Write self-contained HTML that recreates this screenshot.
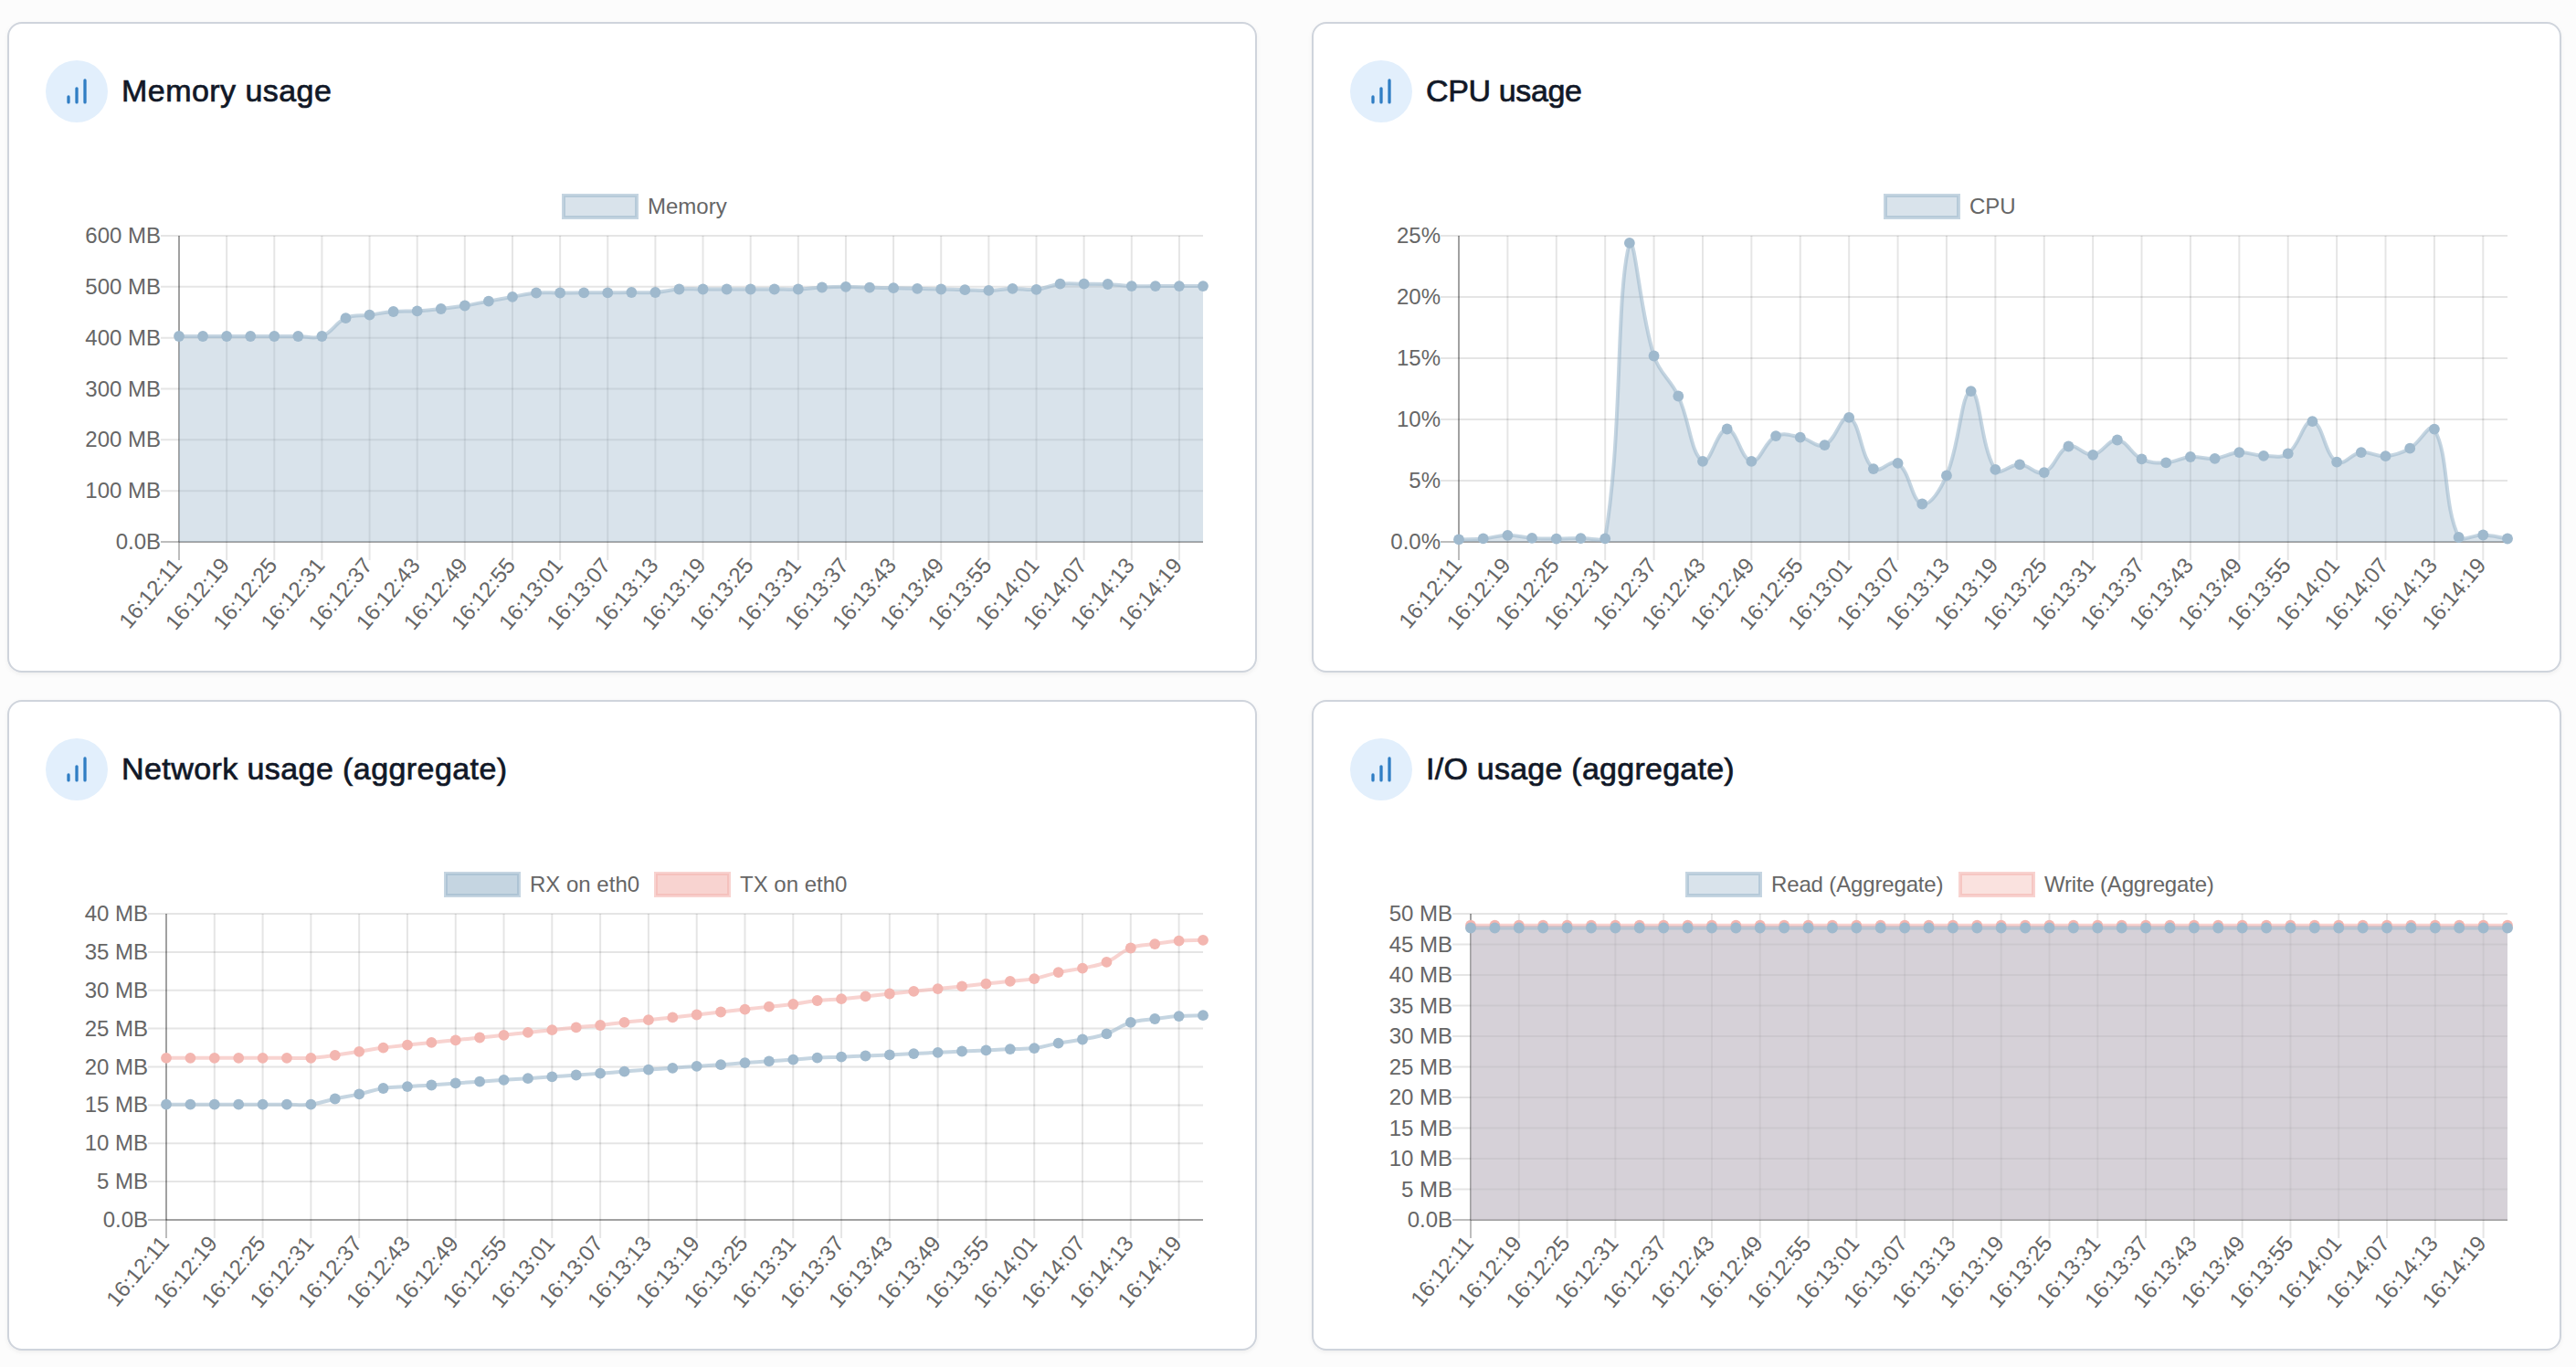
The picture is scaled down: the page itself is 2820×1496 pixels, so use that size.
<!DOCTYPE html>
<html><head><meta charset="utf-8"><title>Container stats</title>
<style>
html,body{margin:0;padding:0;background:#fcfcfc;overflow:hidden}
svg.page{display:block;width:100vw;height:100vh}
.g{stroke:rgba(0,0,0,0.1);stroke-width:2}
.z{stroke:rgba(0,0,0,0.26);stroke-width:2}
.a{stroke:rgba(0,0,0,0.37);stroke-width:2}
text{font-family:"Liberation Sans",Arial,Helvetica,sans-serif;font-size:24px;fill:#666}
.t{font-size:34px;fill:#111827;stroke:#111827;stroke-width:0.7px}
.yl{text-anchor:end;dominant-baseline:central}
.xl{text-anchor:end;dominant-baseline:central}
.lg{dominant-baseline:central}
</style></head><body>
<svg class="page" viewBox="0 0 2820 1496" preserveAspectRatio="xMidYMid meet">
<defs><filter id="sh" x="-2%" y="-2%" width="104%" height="106%"><feDropShadow dx="0" dy="2" stdDeviation="2" flood-color="#000" flood-opacity="0.05"/></filter></defs>
<rect x="0" y="0" width="2820" height="1496" fill="#fcfcfc"/>

<rect x="9" y="25" width="1366" height="710" rx="15" ry="15" fill="#fff" stroke="#cfd4dc" stroke-width="2" filter="url(#sh)"/>
<rect x="1437" y="25" width="1366" height="710" rx="15" ry="15" fill="#fff" stroke="#cfd4dc" stroke-width="2" filter="url(#sh)"/>
<rect x="9" y="767" width="1366" height="710" rx="15" ry="15" fill="#fff" stroke="#cfd4dc" stroke-width="2" filter="url(#sh)"/>
<rect x="1437" y="767" width="1366" height="710" rx="15" ry="15" fill="#fff" stroke="#cfd4dc" stroke-width="2" filter="url(#sh)"/>
<g transform="translate(50 66)"><circle cx="34" cy="34" r="34" fill="#e2effc"/><g stroke="#307ec4" stroke-width="3.3" stroke-linecap="round"><line x1="25" y1="39.95" x2="25" y2="45.95"/><line x1="34" y1="30.85" x2="34" y2="45.95"/><line x1="43" y1="21.95" x2="43" y2="45.95"/></g></g>
<text class="t" x="133" y="110.78" letter-spacing="0.45">Memory usage</text>
<g transform="translate(1478 66)"><circle cx="34" cy="34" r="34" fill="#e2effc"/><g stroke="#307ec4" stroke-width="3.3" stroke-linecap="round"><line x1="25" y1="39.95" x2="25" y2="45.95"/><line x1="34" y1="30.85" x2="34" y2="45.95"/><line x1="43" y1="21.95" x2="43" y2="45.95"/></g></g>
<text class="t" x="1561" y="110.78" letter-spacing="-0.37">CPU usage</text>
<g transform="translate(50 808)"><circle cx="34" cy="34" r="34" fill="#e2effc"/><g stroke="#307ec4" stroke-width="3.3" stroke-linecap="round"><line x1="25" y1="39.95" x2="25" y2="45.95"/><line x1="34" y1="30.85" x2="34" y2="45.95"/><line x1="43" y1="21.95" x2="43" y2="45.95"/></g></g>
<text class="t" x="133" y="852.78" letter-spacing="0.42">Network usage (aggregate)</text>
<g transform="translate(1478 808)"><circle cx="34" cy="34" r="34" fill="#e2effc"/><g stroke="#307ec4" stroke-width="3.3" stroke-linecap="round"><line x1="25" y1="39.95" x2="25" y2="45.95"/><line x1="34" y1="30.85" x2="34" y2="45.95"/><line x1="43" y1="21.95" x2="43" y2="45.95"/></g></g>
<text class="t" x="1561" y="852.78" letter-spacing="0.25">I/O usage (aggregate)</text>
<line x1="176" y1="537.17" x2="1317.0" y2="537.17" class="g"/>
<line x1="176" y1="481.33" x2="1317.0" y2="481.33" class="g"/>
<line x1="176" y1="425.50" x2="1317.0" y2="425.50" class="g"/>
<line x1="176" y1="369.67" x2="1317.0" y2="369.67" class="g"/>
<line x1="176" y1="313.83" x2="1317.0" y2="313.83" class="g"/>
<line x1="176" y1="258.00" x2="1317.0" y2="258.00" class="g"/>
<line x1="248.14" y1="258" x2="248.14" y2="613" class="g"/>
<line x1="300.28" y1="258" x2="300.28" y2="613" class="g"/>
<line x1="352.42" y1="258" x2="352.42" y2="613" class="g"/>
<line x1="404.56" y1="258" x2="404.56" y2="613" class="g"/>
<line x1="456.70" y1="258" x2="456.70" y2="613" class="g"/>
<line x1="508.84" y1="258" x2="508.84" y2="613" class="g"/>
<line x1="560.98" y1="258" x2="560.98" y2="613" class="g"/>
<line x1="613.12" y1="258" x2="613.12" y2="613" class="g"/>
<line x1="665.26" y1="258" x2="665.26" y2="613" class="g"/>
<line x1="717.40" y1="258" x2="717.40" y2="613" class="g"/>
<line x1="769.53" y1="258" x2="769.53" y2="613" class="g"/>
<line x1="821.67" y1="258" x2="821.67" y2="613" class="g"/>
<line x1="873.81" y1="258" x2="873.81" y2="613" class="g"/>
<line x1="925.95" y1="258" x2="925.95" y2="613" class="g"/>
<line x1="978.09" y1="258" x2="978.09" y2="613" class="g"/>
<line x1="1030.23" y1="258" x2="1030.23" y2="613" class="g"/>
<line x1="1082.37" y1="258" x2="1082.37" y2="613" class="g"/>
<line x1="1134.51" y1="258" x2="1134.51" y2="613" class="g"/>
<line x1="1186.65" y1="258" x2="1186.65" y2="613" class="g"/>
<line x1="1238.79" y1="258" x2="1238.79" y2="613" class="g"/>
<line x1="1290.93" y1="258" x2="1290.93" y2="613" class="g"/>
<line x1="196" y1="593" x2="196" y2="613" class="z"/>
<line x1="176" y1="593" x2="196" y2="593" class="z"/>
<line x1="196" y1="258" x2="196" y2="593" class="a"/>
<line x1="196" y1="593" x2="1317.0" y2="593" class="a"/>
<text x="176" y="592.5" class="yl">0.0B</text>
<text x="176" y="536.7" class="yl">100 MB</text>
<text x="176" y="480.8" class="yl">200 MB</text>
<text x="176" y="425.0" class="yl">300 MB</text>
<text x="176" y="369.2" class="yl">400 MB</text>
<text x="176" y="313.3" class="yl">500 MB</text>
<text x="176" y="257.5" class="yl">600 MB</text>
<text transform="translate(193.8 613.9) rotate(-50)" class="xl">16:12:11</text>
<text transform="translate(245.9 613.9) rotate(-50)" class="xl">16:12:19</text>
<text transform="translate(298.1 613.9) rotate(-50)" class="xl">16:12:25</text>
<text transform="translate(350.2 613.9) rotate(-50)" class="xl">16:12:31</text>
<text transform="translate(402.4 613.9) rotate(-50)" class="xl">16:12:37</text>
<text transform="translate(454.5 613.9) rotate(-50)" class="xl">16:12:43</text>
<text transform="translate(506.6 613.9) rotate(-50)" class="xl">16:12:49</text>
<text transform="translate(558.8 613.9) rotate(-50)" class="xl">16:12:55</text>
<text transform="translate(610.9 613.9) rotate(-50)" class="xl">16:13:01</text>
<text transform="translate(663.1 613.9) rotate(-50)" class="xl">16:13:07</text>
<text transform="translate(715.2 613.9) rotate(-50)" class="xl">16:13:13</text>
<text transform="translate(767.3 613.9) rotate(-50)" class="xl">16:13:19</text>
<text transform="translate(819.5 613.9) rotate(-50)" class="xl">16:13:25</text>
<text transform="translate(871.6 613.9) rotate(-50)" class="xl">16:13:31</text>
<text transform="translate(923.8 613.9) rotate(-50)" class="xl">16:13:37</text>
<text transform="translate(975.9 613.9) rotate(-50)" class="xl">16:13:43</text>
<text transform="translate(1028.0 613.9) rotate(-50)" class="xl">16:13:49</text>
<text transform="translate(1080.2 613.9) rotate(-50)" class="xl">16:13:55</text>
<text transform="translate(1132.3 613.9) rotate(-50)" class="xl">16:14:01</text>
<text transform="translate(1184.5 613.9) rotate(-50)" class="xl">16:14:07</text>
<text transform="translate(1236.6 613.9) rotate(-50)" class="xl">16:14:13</text>
<text transform="translate(1288.7 613.9) rotate(-50)" class="xl">16:14:19</text>
<clipPath id="cm"><rect x="196.0" y="258" width="1121.0" height="335"/></clipPath>
<clipPath id="lm"><rect x="194.0" y="256" width="1125.0" height="339"/></clipPath>
<path d="M196.00 368.00 C206.43 368.00 211.64 368.00 222.07 368.00 C232.50 368.00 237.71 368.00 248.14 368.00 C258.57 368.00 263.78 368.00 274.21 368.00 C284.64 368.00 289.85 368.00 300.28 368.00 C310.71 368.00 315.92 368.00 326.35 368.00 C336.78 368.00 343.17 371.51 352.42 368.00 C364.03 363.59 366.92 353.37 378.49 348.20 C387.78 344.05 394.14 346.14 404.56 344.70 C414.99 343.26 420.15 341.88 430.63 341.00 C441.01 340.12 446.29 340.90 456.70 340.30 C467.14 339.70 472.37 339.16 482.77 338.00 C493.22 336.84 498.45 336.17 508.84 334.50 C519.31 332.81 524.47 331.52 534.91 329.60 C545.33 327.68 550.54 326.72 560.98 324.90 C571.39 323.08 576.55 321.39 587.05 320.50 C597.40 319.63 602.69 320.54 613.12 320.50 C623.54 320.46 628.76 320.34 639.19 320.30 C649.61 320.26 654.83 320.36 665.26 320.30 C675.68 320.24 680.90 320.06 691.33 320.00 C701.75 319.94 707.01 320.70 717.40 320.00 C727.87 319.30 732.99 317.20 743.47 316.50 C753.85 315.80 759.11 316.50 769.53 316.50 C779.96 316.50 785.18 316.50 795.60 316.50 C806.03 316.50 811.25 316.50 821.67 316.50 C832.10 316.50 837.32 316.50 847.74 316.50 C858.17 316.50 863.40 316.90 873.81 316.50 C884.26 316.10 889.44 315.04 899.88 314.50 C910.30 313.96 915.53 313.78 925.95 313.80 C936.38 313.82 941.59 314.32 952.02 314.60 C962.45 314.88 967.67 314.96 978.09 315.20 C988.52 315.44 993.74 315.54 1004.16 315.80 C1014.59 316.06 1019.80 316.22 1030.23 316.50 C1040.66 316.78 1045.87 316.92 1056.30 317.20 C1066.73 317.48 1071.96 318.16 1082.37 317.90 C1092.81 317.64 1098.00 316.12 1108.44 315.90 C1118.86 315.68 1124.22 317.83 1134.51 316.80 C1145.08 315.75 1150.01 311.94 1160.58 310.70 C1170.87 309.50 1176.22 310.64 1186.65 310.70 C1197.08 310.76 1202.31 310.52 1212.72 311.00 C1223.17 311.48 1228.35 312.68 1238.79 313.10 C1249.20 313.52 1254.43 313.10 1264.86 313.10 C1275.29 313.10 1280.50 313.10 1290.93 313.10 C1301.36 313.10 1306.57 313.10 1317.00 313.10 L1317.00 593 L196.00 593 Z" fill="rgba(159,185,205,0.4)" clip-path="url(#cm)"/>
<path d="M196.00 368.00 C206.43 368.00 211.64 368.00 222.07 368.00 C232.50 368.00 237.71 368.00 248.14 368.00 C258.57 368.00 263.78 368.00 274.21 368.00 C284.64 368.00 289.85 368.00 300.28 368.00 C310.71 368.00 315.92 368.00 326.35 368.00 C336.78 368.00 343.17 371.51 352.42 368.00 C364.03 363.59 366.92 353.37 378.49 348.20 C387.78 344.05 394.14 346.14 404.56 344.70 C414.99 343.26 420.15 341.88 430.63 341.00 C441.01 340.12 446.29 340.90 456.70 340.30 C467.14 339.70 472.37 339.16 482.77 338.00 C493.22 336.84 498.45 336.17 508.84 334.50 C519.31 332.81 524.47 331.52 534.91 329.60 C545.33 327.68 550.54 326.72 560.98 324.90 C571.39 323.08 576.55 321.39 587.05 320.50 C597.40 319.63 602.69 320.54 613.12 320.50 C623.54 320.46 628.76 320.34 639.19 320.30 C649.61 320.26 654.83 320.36 665.26 320.30 C675.68 320.24 680.90 320.06 691.33 320.00 C701.75 319.94 707.01 320.70 717.40 320.00 C727.87 319.30 732.99 317.20 743.47 316.50 C753.85 315.80 759.11 316.50 769.53 316.50 C779.96 316.50 785.18 316.50 795.60 316.50 C806.03 316.50 811.25 316.50 821.67 316.50 C832.10 316.50 837.32 316.50 847.74 316.50 C858.17 316.50 863.40 316.90 873.81 316.50 C884.26 316.10 889.44 315.04 899.88 314.50 C910.30 313.96 915.53 313.78 925.95 313.80 C936.38 313.82 941.59 314.32 952.02 314.60 C962.45 314.88 967.67 314.96 978.09 315.20 C988.52 315.44 993.74 315.54 1004.16 315.80 C1014.59 316.06 1019.80 316.22 1030.23 316.50 C1040.66 316.78 1045.87 316.92 1056.30 317.20 C1066.73 317.48 1071.96 318.16 1082.37 317.90 C1092.81 317.64 1098.00 316.12 1108.44 315.90 C1118.86 315.68 1124.22 317.83 1134.51 316.80 C1145.08 315.75 1150.01 311.94 1160.58 310.70 C1170.87 309.50 1176.22 310.64 1186.65 310.70 C1197.08 310.76 1202.31 310.52 1212.72 311.00 C1223.17 311.48 1228.35 312.68 1238.79 313.10 C1249.20 313.52 1254.43 313.10 1264.86 313.10 C1275.29 313.10 1280.50 313.10 1290.93 313.10 C1301.36 313.10 1306.57 313.10 1317.00 313.10" fill="none" stroke="rgba(159,185,205,0.6)" stroke-width="4" stroke-linejoin="round" clip-path="url(#lm)"/>
<g fill="rgba(159,185,205,1)"><circle cx="196.00" cy="368.00" r="5.9"/><circle cx="222.07" cy="368.00" r="5.9"/><circle cx="248.14" cy="368.00" r="5.9"/><circle cx="274.21" cy="368.00" r="5.9"/><circle cx="300.28" cy="368.00" r="5.9"/><circle cx="326.35" cy="368.00" r="5.9"/><circle cx="352.42" cy="368.00" r="5.9"/><circle cx="378.49" cy="348.20" r="5.9"/><circle cx="404.56" cy="344.70" r="5.9"/><circle cx="430.63" cy="341.00" r="5.9"/><circle cx="456.70" cy="340.30" r="5.9"/><circle cx="482.77" cy="338.00" r="5.9"/><circle cx="508.84" cy="334.50" r="5.9"/><circle cx="534.91" cy="329.60" r="5.9"/><circle cx="560.98" cy="324.90" r="5.9"/><circle cx="587.05" cy="320.50" r="5.9"/><circle cx="613.12" cy="320.50" r="5.9"/><circle cx="639.19" cy="320.30" r="5.9"/><circle cx="665.26" cy="320.30" r="5.9"/><circle cx="691.33" cy="320.00" r="5.9"/><circle cx="717.40" cy="320.00" r="5.9"/><circle cx="743.47" cy="316.50" r="5.9"/><circle cx="769.53" cy="316.50" r="5.9"/><circle cx="795.60" cy="316.50" r="5.9"/><circle cx="821.67" cy="316.50" r="5.9"/><circle cx="847.74" cy="316.50" r="5.9"/><circle cx="873.81" cy="316.50" r="5.9"/><circle cx="899.88" cy="314.50" r="5.9"/><circle cx="925.95" cy="313.80" r="5.9"/><circle cx="952.02" cy="314.60" r="5.9"/><circle cx="978.09" cy="315.20" r="5.9"/><circle cx="1004.16" cy="315.80" r="5.9"/><circle cx="1030.23" cy="316.50" r="5.9"/><circle cx="1056.30" cy="317.20" r="5.9"/><circle cx="1082.37" cy="317.90" r="5.9"/><circle cx="1108.44" cy="315.90" r="5.9"/><circle cx="1134.51" cy="316.80" r="5.9"/><circle cx="1160.58" cy="310.70" r="5.9"/><circle cx="1186.65" cy="310.70" r="5.9"/><circle cx="1212.72" cy="311.00" r="5.9"/><circle cx="1238.79" cy="313.10" r="5.9"/><circle cx="1264.86" cy="313.10" r="5.9"/><circle cx="1290.93" cy="313.10" r="5.9"/><circle cx="1317.00" cy="313.10" r="5.9"/></g>
<rect x="617" y="214" width="80" height="24" fill="rgba(159,185,205,0.4)" stroke="rgba(159,185,205,0.6)" stroke-width="4"/>
<text x="709.0" y="225.2" class="lg">Memory</text>
<line x1="1577" y1="526.00" x2="2745.0" y2="526.00" class="g"/>
<line x1="1577" y1="459.00" x2="2745.0" y2="459.00" class="g"/>
<line x1="1577" y1="392.00" x2="2745.0" y2="392.00" class="g"/>
<line x1="1577" y1="325.00" x2="2745.0" y2="325.00" class="g"/>
<line x1="1577" y1="258.00" x2="2745.0" y2="258.00" class="g"/>
<line x1="1650.40" y1="258" x2="1650.40" y2="613" class="g"/>
<line x1="1703.79" y1="258" x2="1703.79" y2="613" class="g"/>
<line x1="1757.19" y1="258" x2="1757.19" y2="613" class="g"/>
<line x1="1810.58" y1="258" x2="1810.58" y2="613" class="g"/>
<line x1="1863.98" y1="258" x2="1863.98" y2="613" class="g"/>
<line x1="1917.37" y1="258" x2="1917.37" y2="613" class="g"/>
<line x1="1970.77" y1="258" x2="1970.77" y2="613" class="g"/>
<line x1="2024.16" y1="258" x2="2024.16" y2="613" class="g"/>
<line x1="2077.56" y1="258" x2="2077.56" y2="613" class="g"/>
<line x1="2130.95" y1="258" x2="2130.95" y2="613" class="g"/>
<line x1="2184.35" y1="258" x2="2184.35" y2="613" class="g"/>
<line x1="2237.74" y1="258" x2="2237.74" y2="613" class="g"/>
<line x1="2291.14" y1="258" x2="2291.14" y2="613" class="g"/>
<line x1="2344.53" y1="258" x2="2344.53" y2="613" class="g"/>
<line x1="2397.93" y1="258" x2="2397.93" y2="613" class="g"/>
<line x1="2451.33" y1="258" x2="2451.33" y2="613" class="g"/>
<line x1="2504.72" y1="258" x2="2504.72" y2="613" class="g"/>
<line x1="2558.12" y1="258" x2="2558.12" y2="613" class="g"/>
<line x1="2611.51" y1="258" x2="2611.51" y2="613" class="g"/>
<line x1="2664.91" y1="258" x2="2664.91" y2="613" class="g"/>
<line x1="2718.30" y1="258" x2="2718.30" y2="613" class="g"/>
<line x1="1597" y1="593" x2="1597" y2="613" class="z"/>
<line x1="1577" y1="593" x2="1597" y2="593" class="z"/>
<line x1="1597" y1="258" x2="1597" y2="593" class="a"/>
<line x1="1597" y1="593" x2="2745.0" y2="593" class="a"/>
<text x="1577" y="592.5" class="yl">0.0%</text>
<text x="1577" y="525.5" class="yl">5%</text>
<text x="1577" y="458.5" class="yl">10%</text>
<text x="1577" y="391.5" class="yl">15%</text>
<text x="1577" y="324.5" class="yl">20%</text>
<text x="1577" y="257.5" class="yl">25%</text>
<text transform="translate(1594.8 613.9) rotate(-50)" class="xl">16:12:11</text>
<text transform="translate(1648.2 613.9) rotate(-50)" class="xl">16:12:19</text>
<text transform="translate(1701.6 613.9) rotate(-50)" class="xl">16:12:25</text>
<text transform="translate(1755.0 613.9) rotate(-50)" class="xl">16:12:31</text>
<text transform="translate(1808.4 613.9) rotate(-50)" class="xl">16:12:37</text>
<text transform="translate(1861.8 613.9) rotate(-50)" class="xl">16:12:43</text>
<text transform="translate(1915.2 613.9) rotate(-50)" class="xl">16:12:49</text>
<text transform="translate(1968.6 613.9) rotate(-50)" class="xl">16:12:55</text>
<text transform="translate(2022.0 613.9) rotate(-50)" class="xl">16:13:01</text>
<text transform="translate(2075.4 613.9) rotate(-50)" class="xl">16:13:07</text>
<text transform="translate(2128.8 613.9) rotate(-50)" class="xl">16:13:13</text>
<text transform="translate(2182.1 613.9) rotate(-50)" class="xl">16:13:19</text>
<text transform="translate(2235.5 613.9) rotate(-50)" class="xl">16:13:25</text>
<text transform="translate(2288.9 613.9) rotate(-50)" class="xl">16:13:31</text>
<text transform="translate(2342.3 613.9) rotate(-50)" class="xl">16:13:37</text>
<text transform="translate(2395.7 613.9) rotate(-50)" class="xl">16:13:43</text>
<text transform="translate(2449.1 613.9) rotate(-50)" class="xl">16:13:49</text>
<text transform="translate(2502.5 613.9) rotate(-50)" class="xl">16:13:55</text>
<text transform="translate(2555.9 613.9) rotate(-50)" class="xl">16:14:01</text>
<text transform="translate(2609.3 613.9) rotate(-50)" class="xl">16:14:07</text>
<text transform="translate(2662.7 613.9) rotate(-50)" class="xl">16:14:13</text>
<text transform="translate(2716.1 613.9) rotate(-50)" class="xl">16:14:19</text>
<clipPath id="cc"><rect x="1597.0" y="258" width="1148.0" height="335"/></clipPath>
<clipPath id="lc"><rect x="1595.0" y="256" width="1152.0" height="339"/></clipPath>
<path d="M1597.00 590.40 C1607.68 590.00 1613.06 590.32 1623.70 589.40 C1634.42 588.48 1639.70 585.90 1650.40 585.80 C1661.06 585.70 1666.38 588.14 1677.09 588.90 C1687.74 589.66 1693.11 589.56 1703.79 589.60 C1714.47 589.64 1719.81 589.14 1730.49 589.10 C1741.17 589.06 1755.56 593.00 1757.19 589.40 C1776.92 469.95 1768.51 323.44 1783.88 265.90 C1789.87 258.00 1795.40 341.85 1810.58 389.50 C1816.76 408.89 1828.66 414.90 1837.28 433.50 C1850.02 461.02 1850.47 495.69 1863.98 504.80 C1871.83 510.09 1880.00 469.48 1890.67 469.50 C1901.36 469.52 1905.95 503.27 1917.37 504.90 C1927.30 506.31 1931.46 483.31 1944.07 477.10 C1952.82 472.79 1960.34 476.65 1970.77 478.60 C1981.70 480.65 1988.72 490.67 1997.47 487.10 C2010.07 481.95 2015.76 452.71 2024.16 456.80 C2037.12 463.11 2036.03 499.21 2050.86 513.10 C2057.39 519.21 2070.19 501.50 2077.56 506.80 C2091.55 516.86 2092.31 548.46 2104.26 551.50 C2113.66 553.90 2124.57 535.16 2130.95 520.40 C2145.93 485.80 2146.61 429.44 2157.65 428.10 C2167.97 426.84 2167.96 489.29 2184.35 513.90 C2189.32 521.37 2200.53 507.67 2211.05 508.30 C2221.89 508.95 2228.81 520.41 2237.74 517.10 C2250.17 512.49 2252.04 492.98 2264.44 488.50 C2273.40 485.26 2281.00 499.13 2291.14 497.80 C2302.36 496.33 2307.59 480.62 2317.84 481.50 C2328.95 482.46 2332.64 496.85 2344.53 502.40 C2354.00 506.81 2360.64 506.88 2371.23 506.40 C2382.00 505.92 2387.11 500.93 2397.93 500.00 C2408.47 499.09 2414.10 502.77 2424.63 501.80 C2435.46 500.81 2440.53 495.71 2451.33 495.10 C2461.89 494.51 2467.32 498.56 2478.02 498.80 C2488.67 499.04 2496.64 501.99 2504.72 496.30 C2518.00 486.95 2521.60 459.49 2531.42 461.20 C2542.96 463.21 2544.37 496.87 2558.12 505.60 C2565.73 510.43 2573.81 496.42 2584.81 495.10 C2595.17 493.86 2601.03 500.06 2611.51 499.20 C2622.39 498.30 2628.56 496.05 2638.21 490.70 C2649.92 484.21 2660.23 461.08 2664.91 469.60 C2681.59 500.00 2674.11 550.03 2691.60 588.00 C2695.47 593.00 2707.66 585.20 2718.30 585.50 C2729.02 585.80 2734.32 587.90 2745.00 589.50 L2745.00 593 L1597.00 593 Z" fill="rgba(159,185,205,0.4)" clip-path="url(#cc)"/>
<path d="M1597.00 590.40 C1607.68 590.00 1613.06 590.32 1623.70 589.40 C1634.42 588.48 1639.70 585.90 1650.40 585.80 C1661.06 585.70 1666.38 588.14 1677.09 588.90 C1687.74 589.66 1693.11 589.56 1703.79 589.60 C1714.47 589.64 1719.81 589.14 1730.49 589.10 C1741.17 589.06 1755.56 593.00 1757.19 589.40 C1776.92 469.95 1768.51 323.44 1783.88 265.90 C1789.87 258.00 1795.40 341.85 1810.58 389.50 C1816.76 408.89 1828.66 414.90 1837.28 433.50 C1850.02 461.02 1850.47 495.69 1863.98 504.80 C1871.83 510.09 1880.00 469.48 1890.67 469.50 C1901.36 469.52 1905.95 503.27 1917.37 504.90 C1927.30 506.31 1931.46 483.31 1944.07 477.10 C1952.82 472.79 1960.34 476.65 1970.77 478.60 C1981.70 480.65 1988.72 490.67 1997.47 487.10 C2010.07 481.95 2015.76 452.71 2024.16 456.80 C2037.12 463.11 2036.03 499.21 2050.86 513.10 C2057.39 519.21 2070.19 501.50 2077.56 506.80 C2091.55 516.86 2092.31 548.46 2104.26 551.50 C2113.66 553.90 2124.57 535.16 2130.95 520.40 C2145.93 485.80 2146.61 429.44 2157.65 428.10 C2167.97 426.84 2167.96 489.29 2184.35 513.90 C2189.32 521.37 2200.53 507.67 2211.05 508.30 C2221.89 508.95 2228.81 520.41 2237.74 517.10 C2250.17 512.49 2252.04 492.98 2264.44 488.50 C2273.40 485.26 2281.00 499.13 2291.14 497.80 C2302.36 496.33 2307.59 480.62 2317.84 481.50 C2328.95 482.46 2332.64 496.85 2344.53 502.40 C2354.00 506.81 2360.64 506.88 2371.23 506.40 C2382.00 505.92 2387.11 500.93 2397.93 500.00 C2408.47 499.09 2414.10 502.77 2424.63 501.80 C2435.46 500.81 2440.53 495.71 2451.33 495.10 C2461.89 494.51 2467.32 498.56 2478.02 498.80 C2488.67 499.04 2496.64 501.99 2504.72 496.30 C2518.00 486.95 2521.60 459.49 2531.42 461.20 C2542.96 463.21 2544.37 496.87 2558.12 505.60 C2565.73 510.43 2573.81 496.42 2584.81 495.10 C2595.17 493.86 2601.03 500.06 2611.51 499.20 C2622.39 498.30 2628.56 496.05 2638.21 490.70 C2649.92 484.21 2660.23 461.08 2664.91 469.60 C2681.59 500.00 2674.11 550.03 2691.60 588.00 C2695.47 593.00 2707.66 585.20 2718.30 585.50 C2729.02 585.80 2734.32 587.90 2745.00 589.50" fill="none" stroke="rgba(159,185,205,0.6)" stroke-width="4" stroke-linejoin="round" clip-path="url(#lc)"/>
<g fill="rgba(159,185,205,1)"><circle cx="1597.00" cy="590.40" r="5.9"/><circle cx="1623.70" cy="589.40" r="5.9"/><circle cx="1650.40" cy="585.80" r="5.9"/><circle cx="1677.09" cy="588.90" r="5.9"/><circle cx="1703.79" cy="589.60" r="5.9"/><circle cx="1730.49" cy="589.10" r="5.9"/><circle cx="1757.19" cy="589.40" r="5.9"/><circle cx="1783.88" cy="265.90" r="5.9"/><circle cx="1810.58" cy="389.50" r="5.9"/><circle cx="1837.28" cy="433.50" r="5.9"/><circle cx="1863.98" cy="504.80" r="5.9"/><circle cx="1890.67" cy="469.50" r="5.9"/><circle cx="1917.37" cy="504.90" r="5.9"/><circle cx="1944.07" cy="477.10" r="5.9"/><circle cx="1970.77" cy="478.60" r="5.9"/><circle cx="1997.47" cy="487.10" r="5.9"/><circle cx="2024.16" cy="456.80" r="5.9"/><circle cx="2050.86" cy="513.10" r="5.9"/><circle cx="2077.56" cy="506.80" r="5.9"/><circle cx="2104.26" cy="551.50" r="5.9"/><circle cx="2130.95" cy="520.40" r="5.9"/><circle cx="2157.65" cy="428.10" r="5.9"/><circle cx="2184.35" cy="513.90" r="5.9"/><circle cx="2211.05" cy="508.30" r="5.9"/><circle cx="2237.74" cy="517.10" r="5.9"/><circle cx="2264.44" cy="488.50" r="5.9"/><circle cx="2291.14" cy="497.80" r="5.9"/><circle cx="2317.84" cy="481.50" r="5.9"/><circle cx="2344.53" cy="502.40" r="5.9"/><circle cx="2371.23" cy="506.40" r="5.9"/><circle cx="2397.93" cy="500.00" r="5.9"/><circle cx="2424.63" cy="501.80" r="5.9"/><circle cx="2451.33" cy="495.10" r="5.9"/><circle cx="2478.02" cy="498.80" r="5.9"/><circle cx="2504.72" cy="496.30" r="5.9"/><circle cx="2531.42" cy="461.20" r="5.9"/><circle cx="2558.12" cy="505.60" r="5.9"/><circle cx="2584.81" cy="495.10" r="5.9"/><circle cx="2611.51" cy="499.20" r="5.9"/><circle cx="2638.21" cy="490.70" r="5.9"/><circle cx="2664.91" cy="469.60" r="5.9"/><circle cx="2691.60" cy="588.00" r="5.9"/><circle cx="2718.30" cy="585.50" r="5.9"/><circle cx="2745.00" cy="589.50" r="5.9"/></g>
<rect x="2064" y="214" width="80" height="24" fill="rgba(159,185,205,0.4)" stroke="rgba(159,185,205,0.6)" stroke-width="4"/>
<text x="2156.0" y="225.2" class="lg">CPU</text>
<line x1="162" y1="1293.12" x2="1317.0" y2="1293.12" class="g"/>
<line x1="162" y1="1251.25" x2="1317.0" y2="1251.25" class="g"/>
<line x1="162" y1="1209.38" x2="1317.0" y2="1209.38" class="g"/>
<line x1="162" y1="1167.50" x2="1317.0" y2="1167.50" class="g"/>
<line x1="162" y1="1125.62" x2="1317.0" y2="1125.62" class="g"/>
<line x1="162" y1="1083.75" x2="1317.0" y2="1083.75" class="g"/>
<line x1="162" y1="1041.88" x2="1317.0" y2="1041.88" class="g"/>
<line x1="162" y1="1000.00" x2="1317.0" y2="1000.00" class="g"/>
<line x1="234.79" y1="1000" x2="234.79" y2="1355" class="g"/>
<line x1="287.58" y1="1000" x2="287.58" y2="1355" class="g"/>
<line x1="340.37" y1="1000" x2="340.37" y2="1355" class="g"/>
<line x1="393.16" y1="1000" x2="393.16" y2="1355" class="g"/>
<line x1="445.95" y1="1000" x2="445.95" y2="1355" class="g"/>
<line x1="498.74" y1="1000" x2="498.74" y2="1355" class="g"/>
<line x1="551.53" y1="1000" x2="551.53" y2="1355" class="g"/>
<line x1="604.33" y1="1000" x2="604.33" y2="1355" class="g"/>
<line x1="657.12" y1="1000" x2="657.12" y2="1355" class="g"/>
<line x1="709.91" y1="1000" x2="709.91" y2="1355" class="g"/>
<line x1="762.70" y1="1000" x2="762.70" y2="1355" class="g"/>
<line x1="815.49" y1="1000" x2="815.49" y2="1355" class="g"/>
<line x1="868.28" y1="1000" x2="868.28" y2="1355" class="g"/>
<line x1="921.07" y1="1000" x2="921.07" y2="1355" class="g"/>
<line x1="973.86" y1="1000" x2="973.86" y2="1355" class="g"/>
<line x1="1026.65" y1="1000" x2="1026.65" y2="1355" class="g"/>
<line x1="1079.44" y1="1000" x2="1079.44" y2="1355" class="g"/>
<line x1="1132.23" y1="1000" x2="1132.23" y2="1355" class="g"/>
<line x1="1185.02" y1="1000" x2="1185.02" y2="1355" class="g"/>
<line x1="1237.81" y1="1000" x2="1237.81" y2="1355" class="g"/>
<line x1="1290.60" y1="1000" x2="1290.60" y2="1355" class="g"/>
<line x1="182" y1="1335" x2="182" y2="1355" class="z"/>
<line x1="162" y1="1335" x2="182" y2="1335" class="z"/>
<line x1="182" y1="1000" x2="182" y2="1335" class="a"/>
<line x1="182" y1="1335" x2="1317.0" y2="1335" class="a"/>
<text x="162" y="1334.5" class="yl">0.0B</text>
<text x="162" y="1292.6" class="yl">5 MB</text>
<text x="162" y="1250.8" class="yl">10 MB</text>
<text x="162" y="1208.9" class="yl">15 MB</text>
<text x="162" y="1167.0" class="yl">20 MB</text>
<text x="162" y="1125.1" class="yl">25 MB</text>
<text x="162" y="1083.2" class="yl">30 MB</text>
<text x="162" y="1041.4" class="yl">35 MB</text>
<text x="162" y="999.5" class="yl">40 MB</text>
<text transform="translate(179.8 1355.9) rotate(-50)" class="xl">16:12:11</text>
<text transform="translate(232.6 1355.9) rotate(-50)" class="xl">16:12:19</text>
<text transform="translate(285.4 1355.9) rotate(-50)" class="xl">16:12:25</text>
<text transform="translate(338.2 1355.9) rotate(-50)" class="xl">16:12:31</text>
<text transform="translate(391.0 1355.9) rotate(-50)" class="xl">16:12:37</text>
<text transform="translate(443.8 1355.9) rotate(-50)" class="xl">16:12:43</text>
<text transform="translate(496.5 1355.9) rotate(-50)" class="xl">16:12:49</text>
<text transform="translate(549.3 1355.9) rotate(-50)" class="xl">16:12:55</text>
<text transform="translate(602.1 1355.9) rotate(-50)" class="xl">16:13:01</text>
<text transform="translate(654.9 1355.9) rotate(-50)" class="xl">16:13:07</text>
<text transform="translate(707.7 1355.9) rotate(-50)" class="xl">16:13:13</text>
<text transform="translate(760.5 1355.9) rotate(-50)" class="xl">16:13:19</text>
<text transform="translate(813.3 1355.9) rotate(-50)" class="xl">16:13:25</text>
<text transform="translate(866.1 1355.9) rotate(-50)" class="xl">16:13:31</text>
<text transform="translate(918.9 1355.9) rotate(-50)" class="xl">16:13:37</text>
<text transform="translate(971.7 1355.9) rotate(-50)" class="xl">16:13:43</text>
<text transform="translate(1024.5 1355.9) rotate(-50)" class="xl">16:13:49</text>
<text transform="translate(1077.2 1355.9) rotate(-50)" class="xl">16:13:55</text>
<text transform="translate(1130.0 1355.9) rotate(-50)" class="xl">16:14:01</text>
<text transform="translate(1182.8 1355.9) rotate(-50)" class="xl">16:14:07</text>
<text transform="translate(1235.6 1355.9) rotate(-50)" class="xl">16:14:13</text>
<text transform="translate(1288.4 1355.9) rotate(-50)" class="xl">16:14:19</text>
<clipPath id="cn"><rect x="182.0" y="1000" width="1135.0" height="335"/></clipPath>
<clipPath id="ln"><rect x="180.0" y="998" width="1139.0" height="339"/></clipPath>
<path d="M182.00 1157.80 C192.56 1157.80 197.84 1157.80 208.40 1157.80 C218.95 1157.80 224.23 1157.80 234.79 1157.80 C245.35 1157.80 250.63 1157.80 261.19 1157.80 C271.74 1157.80 277.02 1157.80 287.58 1157.80 C298.14 1157.80 303.42 1157.80 313.98 1157.80 C324.53 1157.80 329.85 1158.40 340.37 1157.80 C350.96 1157.20 356.24 1156.20 366.77 1154.80 C377.35 1153.40 382.61 1152.44 393.16 1150.80 C403.73 1149.16 408.97 1148.04 419.56 1146.60 C430.08 1145.16 435.39 1144.74 445.95 1143.60 C456.51 1142.46 461.79 1141.96 472.35 1140.90 C482.90 1139.84 488.19 1139.38 498.74 1138.30 C509.31 1137.22 514.58 1136.60 525.14 1135.50 C535.70 1134.40 540.98 1133.92 551.53 1132.80 C562.10 1131.68 567.37 1131.02 577.93 1129.90 C588.48 1128.78 593.77 1128.30 604.33 1127.20 C614.89 1126.10 620.15 1125.44 630.72 1124.40 C641.27 1123.36 646.57 1123.12 657.12 1122.00 C667.69 1120.88 672.94 1119.96 683.51 1118.80 C694.06 1117.64 699.35 1117.28 709.91 1116.20 C720.47 1115.12 725.75 1114.54 736.30 1113.40 C746.86 1112.26 752.14 1111.68 762.70 1110.50 C773.26 1109.32 778.53 1108.68 789.09 1107.50 C799.65 1106.32 804.93 1105.76 815.49 1104.60 C826.05 1103.44 831.32 1102.82 841.88 1101.70 C852.44 1100.58 857.75 1100.34 868.28 1099.00 C878.87 1097.66 884.07 1096.17 894.67 1095.00 C905.18 1093.85 910.53 1094.12 921.07 1093.20 C931.65 1092.28 936.91 1091.54 947.47 1090.40 C958.03 1089.26 963.30 1088.62 973.86 1087.50 C984.41 1086.38 989.70 1085.88 1000.26 1084.80 C1010.81 1083.72 1016.09 1083.18 1026.65 1082.10 C1037.21 1081.02 1042.49 1080.50 1053.05 1079.40 C1063.61 1078.30 1068.88 1077.72 1079.44 1076.60 C1090.00 1075.48 1095.28 1074.90 1105.84 1073.80 C1116.39 1072.70 1121.83 1073.01 1132.23 1071.10 C1142.94 1069.13 1147.97 1066.42 1158.63 1064.10 C1169.08 1061.82 1174.55 1061.82 1185.02 1059.60 C1195.67 1057.34 1201.47 1057.07 1211.42 1052.90 C1222.58 1048.23 1226.56 1041.72 1237.81 1037.50 C1247.67 1033.80 1253.62 1034.68 1264.21 1033.10 C1274.74 1031.52 1280.00 1030.46 1290.60 1029.60 C1301.12 1028.74 1306.44 1029.12 1317.00 1028.80" fill="none" stroke="rgba(243,182,176,0.6)" stroke-width="4" stroke-linejoin="round" clip-path="url(#ln)"/>
<g fill="rgba(243,182,176,1)"><circle cx="182.00" cy="1157.80" r="5.9"/><circle cx="208.40" cy="1157.80" r="5.9"/><circle cx="234.79" cy="1157.80" r="5.9"/><circle cx="261.19" cy="1157.80" r="5.9"/><circle cx="287.58" cy="1157.80" r="5.9"/><circle cx="313.98" cy="1157.80" r="5.9"/><circle cx="340.37" cy="1157.80" r="5.9"/><circle cx="366.77" cy="1154.80" r="5.9"/><circle cx="393.16" cy="1150.80" r="5.9"/><circle cx="419.56" cy="1146.60" r="5.9"/><circle cx="445.95" cy="1143.60" r="5.9"/><circle cx="472.35" cy="1140.90" r="5.9"/><circle cx="498.74" cy="1138.30" r="5.9"/><circle cx="525.14" cy="1135.50" r="5.9"/><circle cx="551.53" cy="1132.80" r="5.9"/><circle cx="577.93" cy="1129.90" r="5.9"/><circle cx="604.33" cy="1127.20" r="5.9"/><circle cx="630.72" cy="1124.40" r="5.9"/><circle cx="657.12" cy="1122.00" r="5.9"/><circle cx="683.51" cy="1118.80" r="5.9"/><circle cx="709.91" cy="1116.20" r="5.9"/><circle cx="736.30" cy="1113.40" r="5.9"/><circle cx="762.70" cy="1110.50" r="5.9"/><circle cx="789.09" cy="1107.50" r="5.9"/><circle cx="815.49" cy="1104.60" r="5.9"/><circle cx="841.88" cy="1101.70" r="5.9"/><circle cx="868.28" cy="1099.00" r="5.9"/><circle cx="894.67" cy="1095.00" r="5.9"/><circle cx="921.07" cy="1093.20" r="5.9"/><circle cx="947.47" cy="1090.40" r="5.9"/><circle cx="973.86" cy="1087.50" r="5.9"/><circle cx="1000.26" cy="1084.80" r="5.9"/><circle cx="1026.65" cy="1082.10" r="5.9"/><circle cx="1053.05" cy="1079.40" r="5.9"/><circle cx="1079.44" cy="1076.60" r="5.9"/><circle cx="1105.84" cy="1073.80" r="5.9"/><circle cx="1132.23" cy="1071.10" r="5.9"/><circle cx="1158.63" cy="1064.10" r="5.9"/><circle cx="1185.02" cy="1059.60" r="5.9"/><circle cx="1211.42" cy="1052.90" r="5.9"/><circle cx="1237.81" cy="1037.50" r="5.9"/><circle cx="1264.21" cy="1033.10" r="5.9"/><circle cx="1290.60" cy="1029.60" r="5.9"/><circle cx="1317.00" cy="1028.80" r="5.9"/></g>
<path d="M182.00 1208.70 C192.56 1208.70 197.84 1208.70 208.40 1208.70 C218.95 1208.70 224.23 1208.70 234.79 1208.70 C245.35 1208.70 250.63 1208.70 261.19 1208.70 C271.74 1208.70 277.02 1208.70 287.58 1208.70 C298.14 1208.70 303.42 1208.70 313.98 1208.70 C324.53 1208.70 329.96 1209.92 340.37 1208.70 C351.07 1207.44 356.16 1204.77 366.77 1202.50 C377.28 1200.25 382.66 1199.69 393.16 1197.40 C403.77 1195.09 408.86 1192.68 419.56 1191.00 C429.98 1189.36 435.39 1189.80 445.95 1189.10 C456.51 1188.40 461.80 1188.24 472.35 1187.50 C482.91 1186.76 488.18 1186.16 498.74 1185.40 C509.30 1184.64 514.58 1184.42 525.14 1183.70 C535.70 1182.98 540.97 1182.50 551.53 1181.80 C562.09 1181.10 567.38 1180.90 577.93 1180.20 C588.49 1179.50 593.77 1179.04 604.33 1178.30 C614.88 1177.56 620.16 1177.22 630.72 1176.50 C641.28 1175.78 646.56 1175.48 657.12 1174.70 C667.68 1173.92 672.95 1173.42 683.51 1172.60 C694.07 1171.78 699.35 1171.36 709.91 1170.60 C720.46 1169.84 725.75 1169.54 736.30 1168.80 C746.86 1168.06 752.14 1167.62 762.70 1166.90 C773.25 1166.18 778.54 1165.96 789.09 1165.20 C799.66 1164.44 804.93 1163.88 815.49 1163.10 C826.04 1162.32 831.32 1162.00 841.88 1161.30 C852.44 1160.60 857.73 1160.34 868.28 1159.60 C878.84 1158.86 884.10 1158.18 894.67 1157.60 C905.22 1157.02 910.51 1157.12 921.07 1156.70 C931.63 1156.28 936.91 1155.96 947.47 1155.50 C958.02 1155.04 963.30 1154.88 973.86 1154.40 C984.42 1153.92 989.70 1153.62 1000.26 1153.10 C1010.81 1152.58 1016.09 1152.32 1026.65 1151.80 C1037.21 1151.28 1042.49 1150.98 1053.05 1150.50 C1063.60 1150.02 1068.89 1149.88 1079.44 1149.40 C1090.00 1148.92 1095.28 1148.56 1105.84 1148.10 C1116.39 1147.64 1121.78 1148.39 1132.23 1147.10 C1142.90 1145.79 1148.02 1143.53 1158.63 1141.60 C1169.14 1139.69 1174.54 1139.54 1185.02 1137.50 C1195.66 1135.42 1201.24 1134.88 1211.42 1131.30 C1222.36 1127.44 1226.79 1122.30 1237.81 1118.90 C1247.90 1115.78 1253.63 1116.36 1264.21 1115.00 C1274.74 1113.64 1280.02 1112.86 1290.60 1112.10 C1301.13 1111.34 1306.44 1111.56 1317.00 1111.20" fill="none" stroke="rgba(159,185,205,0.6)" stroke-width="4" stroke-linejoin="round" clip-path="url(#ln)"/>
<g fill="rgba(159,185,205,1)"><circle cx="182.00" cy="1208.70" r="5.9"/><circle cx="208.40" cy="1208.70" r="5.9"/><circle cx="234.79" cy="1208.70" r="5.9"/><circle cx="261.19" cy="1208.70" r="5.9"/><circle cx="287.58" cy="1208.70" r="5.9"/><circle cx="313.98" cy="1208.70" r="5.9"/><circle cx="340.37" cy="1208.70" r="5.9"/><circle cx="366.77" cy="1202.50" r="5.9"/><circle cx="393.16" cy="1197.40" r="5.9"/><circle cx="419.56" cy="1191.00" r="5.9"/><circle cx="445.95" cy="1189.10" r="5.9"/><circle cx="472.35" cy="1187.50" r="5.9"/><circle cx="498.74" cy="1185.40" r="5.9"/><circle cx="525.14" cy="1183.70" r="5.9"/><circle cx="551.53" cy="1181.80" r="5.9"/><circle cx="577.93" cy="1180.20" r="5.9"/><circle cx="604.33" cy="1178.30" r="5.9"/><circle cx="630.72" cy="1176.50" r="5.9"/><circle cx="657.12" cy="1174.70" r="5.9"/><circle cx="683.51" cy="1172.60" r="5.9"/><circle cx="709.91" cy="1170.60" r="5.9"/><circle cx="736.30" cy="1168.80" r="5.9"/><circle cx="762.70" cy="1166.90" r="5.9"/><circle cx="789.09" cy="1165.20" r="5.9"/><circle cx="815.49" cy="1163.10" r="5.9"/><circle cx="841.88" cy="1161.30" r="5.9"/><circle cx="868.28" cy="1159.60" r="5.9"/><circle cx="894.67" cy="1157.60" r="5.9"/><circle cx="921.07" cy="1156.70" r="5.9"/><circle cx="947.47" cy="1155.50" r="5.9"/><circle cx="973.86" cy="1154.40" r="5.9"/><circle cx="1000.26" cy="1153.10" r="5.9"/><circle cx="1026.65" cy="1151.80" r="5.9"/><circle cx="1053.05" cy="1150.50" r="5.9"/><circle cx="1079.44" cy="1149.40" r="5.9"/><circle cx="1105.84" cy="1148.10" r="5.9"/><circle cx="1132.23" cy="1147.10" r="5.9"/><circle cx="1158.63" cy="1141.60" r="5.9"/><circle cx="1185.02" cy="1137.50" r="5.9"/><circle cx="1211.42" cy="1131.30" r="5.9"/><circle cx="1237.81" cy="1118.90" r="5.9"/><circle cx="1264.21" cy="1115.00" r="5.9"/><circle cx="1290.60" cy="1112.10" r="5.9"/><circle cx="1317.00" cy="1111.20" r="5.9"/></g>
<rect x="488" y="956" width="80" height="24" fill="rgba(159,185,205,0.6)" stroke="rgba(159,185,205,0.6)" stroke-width="4"/>
<text x="580.0" y="967.2" class="lg">RX on eth0</text>
<rect x="718" y="956" width="80" height="24" fill="rgba(243,182,176,0.6)" stroke="rgba(243,182,176,0.6)" stroke-width="4"/>
<text x="810.0" y="967.2" class="lg">TX on eth0</text>
<line x1="1590" y1="1301.50" x2="2745.0" y2="1301.50" class="g"/>
<line x1="1590" y1="1268.00" x2="2745.0" y2="1268.00" class="g"/>
<line x1="1590" y1="1234.50" x2="2745.0" y2="1234.50" class="g"/>
<line x1="1590" y1="1201.00" x2="2745.0" y2="1201.00" class="g"/>
<line x1="1590" y1="1167.50" x2="2745.0" y2="1167.50" class="g"/>
<line x1="1590" y1="1134.00" x2="2745.0" y2="1134.00" class="g"/>
<line x1="1590" y1="1100.50" x2="2745.0" y2="1100.50" class="g"/>
<line x1="1590" y1="1067.00" x2="2745.0" y2="1067.00" class="g"/>
<line x1="1590" y1="1033.50" x2="2745.0" y2="1033.50" class="g"/>
<line x1="1590" y1="1000.00" x2="2745.0" y2="1000.00" class="g"/>
<line x1="1662.79" y1="1000" x2="1662.79" y2="1355" class="g"/>
<line x1="1715.58" y1="1000" x2="1715.58" y2="1355" class="g"/>
<line x1="1768.37" y1="1000" x2="1768.37" y2="1355" class="g"/>
<line x1="1821.16" y1="1000" x2="1821.16" y2="1355" class="g"/>
<line x1="1873.95" y1="1000" x2="1873.95" y2="1355" class="g"/>
<line x1="1926.74" y1="1000" x2="1926.74" y2="1355" class="g"/>
<line x1="1979.53" y1="1000" x2="1979.53" y2="1355" class="g"/>
<line x1="2032.33" y1="1000" x2="2032.33" y2="1355" class="g"/>
<line x1="2085.12" y1="1000" x2="2085.12" y2="1355" class="g"/>
<line x1="2137.91" y1="1000" x2="2137.91" y2="1355" class="g"/>
<line x1="2190.70" y1="1000" x2="2190.70" y2="1355" class="g"/>
<line x1="2243.49" y1="1000" x2="2243.49" y2="1355" class="g"/>
<line x1="2296.28" y1="1000" x2="2296.28" y2="1355" class="g"/>
<line x1="2349.07" y1="1000" x2="2349.07" y2="1355" class="g"/>
<line x1="2401.86" y1="1000" x2="2401.86" y2="1355" class="g"/>
<line x1="2454.65" y1="1000" x2="2454.65" y2="1355" class="g"/>
<line x1="2507.44" y1="1000" x2="2507.44" y2="1355" class="g"/>
<line x1="2560.23" y1="1000" x2="2560.23" y2="1355" class="g"/>
<line x1="2613.02" y1="1000" x2="2613.02" y2="1355" class="g"/>
<line x1="2665.81" y1="1000" x2="2665.81" y2="1355" class="g"/>
<line x1="2718.60" y1="1000" x2="2718.60" y2="1355" class="g"/>
<line x1="1610" y1="1335" x2="1610" y2="1355" class="z"/>
<line x1="1590" y1="1335" x2="1610" y2="1335" class="z"/>
<line x1="1610" y1="1000" x2="1610" y2="1335" class="a"/>
<line x1="1610" y1="1335" x2="2745.0" y2="1335" class="a"/>
<text x="1590" y="1334.5" class="yl">0.0B</text>
<text x="1590" y="1301.0" class="yl">5 MB</text>
<text x="1590" y="1267.5" class="yl">10 MB</text>
<text x="1590" y="1234.0" class="yl">15 MB</text>
<text x="1590" y="1200.5" class="yl">20 MB</text>
<text x="1590" y="1167.0" class="yl">25 MB</text>
<text x="1590" y="1133.5" class="yl">30 MB</text>
<text x="1590" y="1100.0" class="yl">35 MB</text>
<text x="1590" y="1066.5" class="yl">40 MB</text>
<text x="1590" y="1033.0" class="yl">45 MB</text>
<text x="1590" y="999.5" class="yl">50 MB</text>
<text transform="translate(1607.8 1355.9) rotate(-50)" class="xl">16:12:11</text>
<text transform="translate(1660.6 1355.9) rotate(-50)" class="xl">16:12:19</text>
<text transform="translate(1713.4 1355.9) rotate(-50)" class="xl">16:12:25</text>
<text transform="translate(1766.2 1355.9) rotate(-50)" class="xl">16:12:31</text>
<text transform="translate(1819.0 1355.9) rotate(-50)" class="xl">16:12:37</text>
<text transform="translate(1871.8 1355.9) rotate(-50)" class="xl">16:12:43</text>
<text transform="translate(1924.5 1355.9) rotate(-50)" class="xl">16:12:49</text>
<text transform="translate(1977.3 1355.9) rotate(-50)" class="xl">16:12:55</text>
<text transform="translate(2030.1 1355.9) rotate(-50)" class="xl">16:13:01</text>
<text transform="translate(2082.9 1355.9) rotate(-50)" class="xl">16:13:07</text>
<text transform="translate(2135.7 1355.9) rotate(-50)" class="xl">16:13:13</text>
<text transform="translate(2188.5 1355.9) rotate(-50)" class="xl">16:13:19</text>
<text transform="translate(2241.3 1355.9) rotate(-50)" class="xl">16:13:25</text>
<text transform="translate(2294.1 1355.9) rotate(-50)" class="xl">16:13:31</text>
<text transform="translate(2346.9 1355.9) rotate(-50)" class="xl">16:13:37</text>
<text transform="translate(2399.7 1355.9) rotate(-50)" class="xl">16:13:43</text>
<text transform="translate(2452.5 1355.9) rotate(-50)" class="xl">16:13:49</text>
<text transform="translate(2505.2 1355.9) rotate(-50)" class="xl">16:13:55</text>
<text transform="translate(2558.0 1355.9) rotate(-50)" class="xl">16:14:01</text>
<text transform="translate(2610.8 1355.9) rotate(-50)" class="xl">16:14:07</text>
<text transform="translate(2663.6 1355.9) rotate(-50)" class="xl">16:14:13</text>
<text transform="translate(2716.4 1355.9) rotate(-50)" class="xl">16:14:19</text>
<clipPath id="ci"><rect x="1610.0" y="1000" width="1135.0" height="335"/></clipPath>
<clipPath id="li"><rect x="1608.0" y="998" width="1139.0" height="339"/></clipPath>
<path d="M1610.00 1012.70 C1620.56 1012.70 1625.84 1012.70 1636.40 1012.70 C1646.95 1012.70 1652.23 1012.70 1662.79 1012.70 C1673.35 1012.70 1678.63 1012.70 1689.19 1012.70 C1699.74 1012.70 1705.02 1012.70 1715.58 1012.70 C1726.14 1012.70 1731.42 1012.70 1741.98 1012.70 C1752.53 1012.70 1757.81 1012.70 1768.37 1012.70 C1778.93 1012.70 1784.21 1012.70 1794.77 1012.70 C1805.33 1012.70 1810.60 1012.70 1821.16 1012.70 C1831.72 1012.70 1837.00 1012.70 1847.56 1012.70 C1858.12 1012.70 1863.40 1012.70 1873.95 1012.70 C1884.51 1012.70 1889.79 1012.70 1900.35 1012.70 C1910.91 1012.70 1916.19 1012.70 1926.74 1012.70 C1937.30 1012.70 1942.58 1012.70 1953.14 1012.70 C1963.70 1012.70 1968.98 1012.70 1979.53 1012.70 C1990.09 1012.70 1995.37 1012.70 2005.93 1012.70 C2016.49 1012.70 2021.77 1012.70 2032.33 1012.70 C2042.88 1012.70 2048.16 1012.70 2058.72 1012.70 C2069.28 1012.70 2074.56 1012.70 2085.12 1012.70 C2095.67 1012.70 2100.95 1012.70 2111.51 1012.70 C2122.07 1012.70 2127.35 1012.70 2137.91 1012.70 C2148.47 1012.70 2153.74 1012.70 2164.30 1012.70 C2174.86 1012.70 2180.14 1012.70 2190.70 1012.70 C2201.26 1012.70 2206.53 1012.70 2217.09 1012.70 C2227.65 1012.70 2232.93 1012.70 2243.49 1012.70 C2254.05 1012.70 2259.33 1012.70 2269.88 1012.70 C2280.44 1012.70 2285.72 1012.70 2296.28 1012.70 C2306.84 1012.70 2312.12 1012.70 2322.67 1012.70 C2333.23 1012.70 2338.51 1012.70 2349.07 1012.70 C2359.63 1012.70 2364.91 1012.70 2375.47 1012.70 C2386.02 1012.70 2391.30 1012.70 2401.86 1012.70 C2412.42 1012.70 2417.70 1012.70 2428.26 1012.70 C2438.81 1012.70 2444.09 1012.70 2454.65 1012.70 C2465.21 1012.70 2470.49 1012.70 2481.05 1012.70 C2491.60 1012.70 2496.88 1012.70 2507.44 1012.70 C2518.00 1012.70 2523.28 1012.70 2533.84 1012.70 C2544.40 1012.70 2549.67 1012.70 2560.23 1012.70 C2570.79 1012.70 2576.07 1012.70 2586.63 1012.70 C2597.19 1012.70 2602.47 1012.70 2613.02 1012.70 C2623.58 1012.70 2628.86 1012.70 2639.42 1012.70 C2649.98 1012.70 2655.26 1012.70 2665.81 1012.70 C2676.37 1012.70 2681.65 1012.70 2692.21 1012.70 C2702.77 1012.70 2708.05 1012.70 2718.60 1012.70 C2729.16 1012.70 2734.44 1012.70 2745.00 1012.70 L2745.00 1335 L1610.00 1335 Z" fill="rgba(243,182,176,0.4)" clip-path="url(#ci)"/>
<path d="M1610.00 1012.70 C1620.56 1012.70 1625.84 1012.70 1636.40 1012.70 C1646.95 1012.70 1652.23 1012.70 1662.79 1012.70 C1673.35 1012.70 1678.63 1012.70 1689.19 1012.70 C1699.74 1012.70 1705.02 1012.70 1715.58 1012.70 C1726.14 1012.70 1731.42 1012.70 1741.98 1012.70 C1752.53 1012.70 1757.81 1012.70 1768.37 1012.70 C1778.93 1012.70 1784.21 1012.70 1794.77 1012.70 C1805.33 1012.70 1810.60 1012.70 1821.16 1012.70 C1831.72 1012.70 1837.00 1012.70 1847.56 1012.70 C1858.12 1012.70 1863.40 1012.70 1873.95 1012.70 C1884.51 1012.70 1889.79 1012.70 1900.35 1012.70 C1910.91 1012.70 1916.19 1012.70 1926.74 1012.70 C1937.30 1012.70 1942.58 1012.70 1953.14 1012.70 C1963.70 1012.70 1968.98 1012.70 1979.53 1012.70 C1990.09 1012.70 1995.37 1012.70 2005.93 1012.70 C2016.49 1012.70 2021.77 1012.70 2032.33 1012.70 C2042.88 1012.70 2048.16 1012.70 2058.72 1012.70 C2069.28 1012.70 2074.56 1012.70 2085.12 1012.70 C2095.67 1012.70 2100.95 1012.70 2111.51 1012.70 C2122.07 1012.70 2127.35 1012.70 2137.91 1012.70 C2148.47 1012.70 2153.74 1012.70 2164.30 1012.70 C2174.86 1012.70 2180.14 1012.70 2190.70 1012.70 C2201.26 1012.70 2206.53 1012.70 2217.09 1012.70 C2227.65 1012.70 2232.93 1012.70 2243.49 1012.70 C2254.05 1012.70 2259.33 1012.70 2269.88 1012.70 C2280.44 1012.70 2285.72 1012.70 2296.28 1012.70 C2306.84 1012.70 2312.12 1012.70 2322.67 1012.70 C2333.23 1012.70 2338.51 1012.70 2349.07 1012.70 C2359.63 1012.70 2364.91 1012.70 2375.47 1012.70 C2386.02 1012.70 2391.30 1012.70 2401.86 1012.70 C2412.42 1012.70 2417.70 1012.70 2428.26 1012.70 C2438.81 1012.70 2444.09 1012.70 2454.65 1012.70 C2465.21 1012.70 2470.49 1012.70 2481.05 1012.70 C2491.60 1012.70 2496.88 1012.70 2507.44 1012.70 C2518.00 1012.70 2523.28 1012.70 2533.84 1012.70 C2544.40 1012.70 2549.67 1012.70 2560.23 1012.70 C2570.79 1012.70 2576.07 1012.70 2586.63 1012.70 C2597.19 1012.70 2602.47 1012.70 2613.02 1012.70 C2623.58 1012.70 2628.86 1012.70 2639.42 1012.70 C2649.98 1012.70 2655.26 1012.70 2665.81 1012.70 C2676.37 1012.70 2681.65 1012.70 2692.21 1012.70 C2702.77 1012.70 2708.05 1012.70 2718.60 1012.70 C2729.16 1012.70 2734.44 1012.70 2745.00 1012.70" fill="none" stroke="rgba(243,182,176,0.6)" stroke-width="4" stroke-linejoin="round" clip-path="url(#li)"/>
<g fill="rgba(243,182,176,1)"><circle cx="1610.00" cy="1012.70" r="5.9"/><circle cx="1636.40" cy="1012.70" r="5.9"/><circle cx="1662.79" cy="1012.70" r="5.9"/><circle cx="1689.19" cy="1012.70" r="5.9"/><circle cx="1715.58" cy="1012.70" r="5.9"/><circle cx="1741.98" cy="1012.70" r="5.9"/><circle cx="1768.37" cy="1012.70" r="5.9"/><circle cx="1794.77" cy="1012.70" r="5.9"/><circle cx="1821.16" cy="1012.70" r="5.9"/><circle cx="1847.56" cy="1012.70" r="5.9"/><circle cx="1873.95" cy="1012.70" r="5.9"/><circle cx="1900.35" cy="1012.70" r="5.9"/><circle cx="1926.74" cy="1012.70" r="5.9"/><circle cx="1953.14" cy="1012.70" r="5.9"/><circle cx="1979.53" cy="1012.70" r="5.9"/><circle cx="2005.93" cy="1012.70" r="5.9"/><circle cx="2032.33" cy="1012.70" r="5.9"/><circle cx="2058.72" cy="1012.70" r="5.9"/><circle cx="2085.12" cy="1012.70" r="5.9"/><circle cx="2111.51" cy="1012.70" r="5.9"/><circle cx="2137.91" cy="1012.70" r="5.9"/><circle cx="2164.30" cy="1012.70" r="5.9"/><circle cx="2190.70" cy="1012.70" r="5.9"/><circle cx="2217.09" cy="1012.70" r="5.9"/><circle cx="2243.49" cy="1012.70" r="5.9"/><circle cx="2269.88" cy="1012.70" r="5.9"/><circle cx="2296.28" cy="1012.70" r="5.9"/><circle cx="2322.67" cy="1012.70" r="5.9"/><circle cx="2349.07" cy="1012.70" r="5.9"/><circle cx="2375.47" cy="1012.70" r="5.9"/><circle cx="2401.86" cy="1012.70" r="5.9"/><circle cx="2428.26" cy="1012.70" r="5.9"/><circle cx="2454.65" cy="1012.70" r="5.9"/><circle cx="2481.05" cy="1012.70" r="5.9"/><circle cx="2507.44" cy="1012.70" r="5.9"/><circle cx="2533.84" cy="1012.70" r="5.9"/><circle cx="2560.23" cy="1012.70" r="5.9"/><circle cx="2586.63" cy="1012.70" r="5.9"/><circle cx="2613.02" cy="1012.70" r="5.9"/><circle cx="2639.42" cy="1012.70" r="5.9"/><circle cx="2665.81" cy="1012.70" r="5.9"/><circle cx="2692.21" cy="1012.70" r="5.9"/><circle cx="2718.60" cy="1012.70" r="5.9"/><circle cx="2745.00" cy="1012.70" r="5.9"/></g>
<path d="M1610.00 1015.50 C1620.56 1015.50 1625.84 1015.50 1636.40 1015.50 C1646.95 1015.50 1652.23 1015.50 1662.79 1015.50 C1673.35 1015.50 1678.63 1015.50 1689.19 1015.50 C1699.74 1015.50 1705.02 1015.50 1715.58 1015.50 C1726.14 1015.50 1731.42 1015.50 1741.98 1015.50 C1752.53 1015.50 1757.81 1015.50 1768.37 1015.50 C1778.93 1015.50 1784.21 1015.50 1794.77 1015.50 C1805.33 1015.50 1810.60 1015.50 1821.16 1015.50 C1831.72 1015.50 1837.00 1015.50 1847.56 1015.50 C1858.12 1015.50 1863.40 1015.50 1873.95 1015.50 C1884.51 1015.50 1889.79 1015.50 1900.35 1015.50 C1910.91 1015.50 1916.19 1015.50 1926.74 1015.50 C1937.30 1015.50 1942.58 1015.50 1953.14 1015.50 C1963.70 1015.50 1968.98 1015.50 1979.53 1015.50 C1990.09 1015.50 1995.37 1015.50 2005.93 1015.50 C2016.49 1015.50 2021.77 1015.50 2032.33 1015.50 C2042.88 1015.50 2048.16 1015.50 2058.72 1015.50 C2069.28 1015.50 2074.56 1015.50 2085.12 1015.50 C2095.67 1015.50 2100.95 1015.50 2111.51 1015.50 C2122.07 1015.50 2127.35 1015.50 2137.91 1015.50 C2148.47 1015.50 2153.74 1015.50 2164.30 1015.50 C2174.86 1015.50 2180.14 1015.50 2190.70 1015.50 C2201.26 1015.50 2206.53 1015.50 2217.09 1015.50 C2227.65 1015.50 2232.93 1015.50 2243.49 1015.50 C2254.05 1015.50 2259.33 1015.50 2269.88 1015.50 C2280.44 1015.50 2285.72 1015.50 2296.28 1015.50 C2306.84 1015.50 2312.12 1015.50 2322.67 1015.50 C2333.23 1015.50 2338.51 1015.50 2349.07 1015.50 C2359.63 1015.50 2364.91 1015.50 2375.47 1015.50 C2386.02 1015.50 2391.30 1015.50 2401.86 1015.50 C2412.42 1015.50 2417.70 1015.50 2428.26 1015.50 C2438.81 1015.50 2444.09 1015.50 2454.65 1015.50 C2465.21 1015.50 2470.49 1015.50 2481.05 1015.50 C2491.60 1015.50 2496.88 1015.50 2507.44 1015.50 C2518.00 1015.50 2523.28 1015.50 2533.84 1015.50 C2544.40 1015.50 2549.67 1015.50 2560.23 1015.50 C2570.79 1015.50 2576.07 1015.50 2586.63 1015.50 C2597.19 1015.50 2602.47 1015.50 2613.02 1015.50 C2623.58 1015.50 2628.86 1015.50 2639.42 1015.50 C2649.98 1015.50 2655.26 1015.50 2665.81 1015.50 C2676.37 1015.50 2681.65 1015.50 2692.21 1015.50 C2702.77 1015.50 2708.05 1015.50 2718.60 1015.50 C2729.16 1015.50 2734.44 1015.50 2745.00 1015.50 L2745.00 1335 L1610.00 1335 Z" fill="rgba(159,185,205,0.4)" clip-path="url(#ci)"/>
<path d="M1610.00 1015.50 C1620.56 1015.50 1625.84 1015.50 1636.40 1015.50 C1646.95 1015.50 1652.23 1015.50 1662.79 1015.50 C1673.35 1015.50 1678.63 1015.50 1689.19 1015.50 C1699.74 1015.50 1705.02 1015.50 1715.58 1015.50 C1726.14 1015.50 1731.42 1015.50 1741.98 1015.50 C1752.53 1015.50 1757.81 1015.50 1768.37 1015.50 C1778.93 1015.50 1784.21 1015.50 1794.77 1015.50 C1805.33 1015.50 1810.60 1015.50 1821.16 1015.50 C1831.72 1015.50 1837.00 1015.50 1847.56 1015.50 C1858.12 1015.50 1863.40 1015.50 1873.95 1015.50 C1884.51 1015.50 1889.79 1015.50 1900.35 1015.50 C1910.91 1015.50 1916.19 1015.50 1926.74 1015.50 C1937.30 1015.50 1942.58 1015.50 1953.14 1015.50 C1963.70 1015.50 1968.98 1015.50 1979.53 1015.50 C1990.09 1015.50 1995.37 1015.50 2005.93 1015.50 C2016.49 1015.50 2021.77 1015.50 2032.33 1015.50 C2042.88 1015.50 2048.16 1015.50 2058.72 1015.50 C2069.28 1015.50 2074.56 1015.50 2085.12 1015.50 C2095.67 1015.50 2100.95 1015.50 2111.51 1015.50 C2122.07 1015.50 2127.35 1015.50 2137.91 1015.50 C2148.47 1015.50 2153.74 1015.50 2164.30 1015.50 C2174.86 1015.50 2180.14 1015.50 2190.70 1015.50 C2201.26 1015.50 2206.53 1015.50 2217.09 1015.50 C2227.65 1015.50 2232.93 1015.50 2243.49 1015.50 C2254.05 1015.50 2259.33 1015.50 2269.88 1015.50 C2280.44 1015.50 2285.72 1015.50 2296.28 1015.50 C2306.84 1015.50 2312.12 1015.50 2322.67 1015.50 C2333.23 1015.50 2338.51 1015.50 2349.07 1015.50 C2359.63 1015.50 2364.91 1015.50 2375.47 1015.50 C2386.02 1015.50 2391.30 1015.50 2401.86 1015.50 C2412.42 1015.50 2417.70 1015.50 2428.26 1015.50 C2438.81 1015.50 2444.09 1015.50 2454.65 1015.50 C2465.21 1015.50 2470.49 1015.50 2481.05 1015.50 C2491.60 1015.50 2496.88 1015.50 2507.44 1015.50 C2518.00 1015.50 2523.28 1015.50 2533.84 1015.50 C2544.40 1015.50 2549.67 1015.50 2560.23 1015.50 C2570.79 1015.50 2576.07 1015.50 2586.63 1015.50 C2597.19 1015.50 2602.47 1015.50 2613.02 1015.50 C2623.58 1015.50 2628.86 1015.50 2639.42 1015.50 C2649.98 1015.50 2655.26 1015.50 2665.81 1015.50 C2676.37 1015.50 2681.65 1015.50 2692.21 1015.50 C2702.77 1015.50 2708.05 1015.50 2718.60 1015.50 C2729.16 1015.50 2734.44 1015.50 2745.00 1015.50" fill="none" stroke="rgba(159,185,205,0.6)" stroke-width="4" stroke-linejoin="round" clip-path="url(#li)"/>
<g fill="rgba(159,185,205,1)"><circle cx="1610.00" cy="1015.50" r="5.9"/><circle cx="1636.40" cy="1015.50" r="5.9"/><circle cx="1662.79" cy="1015.50" r="5.9"/><circle cx="1689.19" cy="1015.50" r="5.9"/><circle cx="1715.58" cy="1015.50" r="5.9"/><circle cx="1741.98" cy="1015.50" r="5.9"/><circle cx="1768.37" cy="1015.50" r="5.9"/><circle cx="1794.77" cy="1015.50" r="5.9"/><circle cx="1821.16" cy="1015.50" r="5.9"/><circle cx="1847.56" cy="1015.50" r="5.9"/><circle cx="1873.95" cy="1015.50" r="5.9"/><circle cx="1900.35" cy="1015.50" r="5.9"/><circle cx="1926.74" cy="1015.50" r="5.9"/><circle cx="1953.14" cy="1015.50" r="5.9"/><circle cx="1979.53" cy="1015.50" r="5.9"/><circle cx="2005.93" cy="1015.50" r="5.9"/><circle cx="2032.33" cy="1015.50" r="5.9"/><circle cx="2058.72" cy="1015.50" r="5.9"/><circle cx="2085.12" cy="1015.50" r="5.9"/><circle cx="2111.51" cy="1015.50" r="5.9"/><circle cx="2137.91" cy="1015.50" r="5.9"/><circle cx="2164.30" cy="1015.50" r="5.9"/><circle cx="2190.70" cy="1015.50" r="5.9"/><circle cx="2217.09" cy="1015.50" r="5.9"/><circle cx="2243.49" cy="1015.50" r="5.9"/><circle cx="2269.88" cy="1015.50" r="5.9"/><circle cx="2296.28" cy="1015.50" r="5.9"/><circle cx="2322.67" cy="1015.50" r="5.9"/><circle cx="2349.07" cy="1015.50" r="5.9"/><circle cx="2375.47" cy="1015.50" r="5.9"/><circle cx="2401.86" cy="1015.50" r="5.9"/><circle cx="2428.26" cy="1015.50" r="5.9"/><circle cx="2454.65" cy="1015.50" r="5.9"/><circle cx="2481.05" cy="1015.50" r="5.9"/><circle cx="2507.44" cy="1015.50" r="5.9"/><circle cx="2533.84" cy="1015.50" r="5.9"/><circle cx="2560.23" cy="1015.50" r="5.9"/><circle cx="2586.63" cy="1015.50" r="5.9"/><circle cx="2613.02" cy="1015.50" r="5.9"/><circle cx="2639.42" cy="1015.50" r="5.9"/><circle cx="2665.81" cy="1015.50" r="5.9"/><circle cx="2692.21" cy="1015.50" r="5.9"/><circle cx="2718.60" cy="1015.50" r="5.9"/><circle cx="2745.00" cy="1015.50" r="5.9"/></g>
<rect x="1847" y="956" width="80" height="24" fill="rgba(159,185,205,0.4)" stroke="rgba(159,185,205,0.6)" stroke-width="4"/>
<text x="1939.0" y="967.2" class="lg" letter-spacing="-0.15">Read (Aggregate)</text>
<rect x="2146" y="956" width="80" height="24" fill="rgba(243,182,176,0.4)" stroke="rgba(243,182,176,0.6)" stroke-width="4"/>
<text x="2238.0" y="967.2" class="lg" letter-spacing="-0.2">Write (Aggregate)</text>
</svg>
</body></html>
